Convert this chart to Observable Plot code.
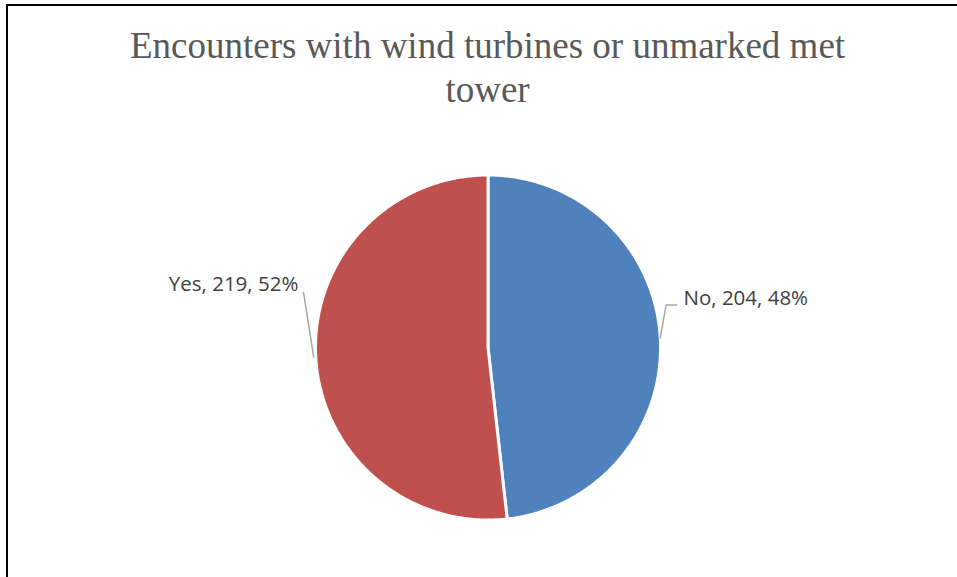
<!DOCTYPE html>
<html><head><meta charset="utf-8">
<script src="https://cdn.jsdelivr.net/npm/d3@7"></script>
<script src="https://cdn.jsdelivr.net/npm/@observablehq/plot@0.6"></script>
<style>
body{margin:0;background:#fff;}
#wrap{position:relative;width:957px;height:577px;overflow:hidden;background:#fff;}
#frame{position:absolute;left:6px;top:4px;width:1000px;height:600px;border-top:2px solid #000;border-left:2px solid #000;box-sizing:border-box;}
#title{position:absolute;left:0;top:24px;width:975px;text-align:center;font-family:"Liberation Serif","Times New Roman",serif;font-size:37px;line-height:44px;color:#595959;}
#chart{position:absolute;left:0;top:0;}
</style>
</head><body>
<div id="wrap">
  <div id="frame"></div>
  <div id="chart"></div>
  <div id="title">Encounters with wind turbines or unmarked met<br>tower</div>
</div>
<script>
const categories = ["No", "Yes"];
const counts = [204, 219];
const percentLabels = ["48%", "52%"];
const colors = ["#4F81BD", "#C0504D"];

const rows = categories.map((c, i) => ({cat: c, count: counts[i], pct: percentLabels[i]}));
const arcs = d3.pie().sort(null).value(d => d.count)(rows);

// polygon points for each slice (unit circle, angle 0 at top, clockwise)
const slicePts = [];
for (const a of arcs) {
  slicePts.push({cat: a.data.cat, x: 0, y: 0});
  const n = Math.max(2, Math.ceil((a.endAngle - a.startAngle) / (Math.PI / 360)));
  for (let k = 0; k <= n; k++) {
    const t = a.startAngle + (a.endAngle - a.startAngle) * k / n;
    slicePts.push({cat: a.data.cat, x: Math.sin(t), y: Math.cos(t)});
  }
}

// label placement (layout): radius + vertical lift relative to slice mid-angle
const labels = [], leaders = [];
for (const a of arcs) {
  const m = (a.startAngle + a.endAngle) / 2;
  const sx = Math.sin(m), sy = Math.cos(m);
  const right = sx >= 0;
  const lx = sx * (right ? 1.135 : 1.101);
  const ly = sy + (right ? 0.23 : 0.42);
  labels.push({cat: a.data.cat, side: right ? "start" : "end", x: lx, y: ly,
    text: `${a.data.cat}, ${a.data.count}, ${a.data.pct}`});
  if (right) {
    leaders.push({cat: a.data.cat, x: sx, y: sy});
    leaders.push({cat: a.data.cat, x: sx * 1.034, y: ly - 0.04});
    leaders.push({cat: a.data.cat, x: lx - 0.04, y: ly - 0.04});
  } else {
    leaders.push({cat: a.data.cat, x: sx * 1.012, y: sy});
    leaders.push({cat: a.data.cat, x: lx + 0.03, y: ly - 0.045});
  }
}

const plot = Plot.plot({
  width: 957,
  height: 577,
  margin: 0,
  style: {background: "transparent"},
  x: {domain: [-1, 1], range: [315, 660], axis: null},
  y: {domain: [-1, 1], range: [519.5, 174.5], axis: null},
  color: {domain: categories, range: colors},
  marks: [
    Plot.line(slicePts, {x: "x", y: "y", z: "cat", fill: "cat", stroke: "white", strokeWidth: 3, strokeLinejoin: "miter", curve: "linear-closed"}),
    Plot.line(leaders, {x: "x", y: "y", z: "cat", stroke: "#A6A6A6", strokeWidth: 1.5}),
    Plot.text(labels.filter(d => d.side === "start"), {x: "x", y: "y", text: "text", textAnchor: "start", fontSize: 20.5, fill: "#404040", fontFamily: "Open Sans"}),
    Plot.text(labels.filter(d => d.side === "end"), {x: "x", y: "y", text: "text", textAnchor: "end", fontSize: 20.5, fill: "#404040", fontFamily: "Open Sans"})
  ]
});
document.getElementById("chart").appendChild(plot);
</script>
</body></html>
